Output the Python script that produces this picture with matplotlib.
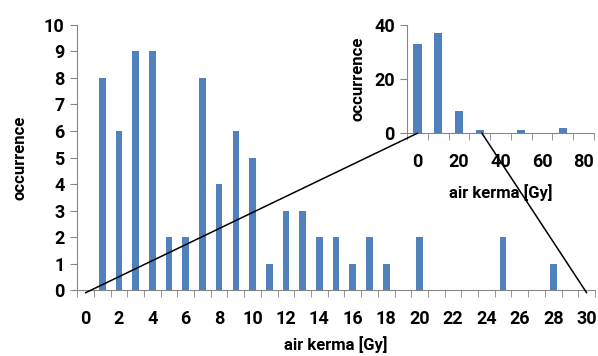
import numpy as np
import matplotlib.pyplot as plt
from matplotlib.patches import ConnectionPatch

plt.rcParams['font.family'] = ['Roboto', 'DejaVu Sans']
plt.rcParams['font.weight'] = 'bold'

# main histogram (0..30 Gy, 1 Gy bins)
dose = np.arange(0, 31)
counts = [0, 8, 6, 9, 9, 2, 2, 8, 4, 6, 5, 1, 3, 3, 2, 2, 1, 2, 1, 0,
          2, 0, 0, 0, 0, 2, 0, 0, 1, 0, 0]

# inset histogram (0..80 Gy, 10 Gy bins)
dose_in = np.arange(0, 90, 10)
counts_in = [33, 37, 8, 1, 0, 1, 0, 2, 0]

blue = '#4F81BD'
grey = '#868686'

fig = plt.figure(figsize=(5.98, 3.56), dpi=100)
ax = fig.add_axes([0.129, 0.185, 0.866, 0.745])
ins = fig.add_axes([0.681, 0.626, 0.312, 0.304])


def style(a, cats, labels_every, fs):
    n = len(cats)
    a.set_xlim(-0.5, n - 0.5)
    a.set_xticks(np.arange(n)[::labels_every])
    a.set_xticklabels([str(c) for c in cats[::labels_every]], fontsize=fs, fontweight='bold')
    a.set_xticks(np.arange(-0.5, n, 1), minor=True)
    a.tick_params(axis='x', which='major', length=0, pad=14)
    a.tick_params(axis='x', which='minor', length=5, color=grey, direction='out')
    a.tick_params(axis='y', length=5, color=grey, direction='out', labelsize=fs, pad=4)
    for lab in a.get_yticklabels():
        lab.set_fontweight('bold')
    for s in ['top', 'right']:
        a.spines[s].set_visible(False)
    for s in ['left', 'bottom']:
        a.spines[s].set_color(grey)


ax.bar(np.arange(len(dose)), counts, width=0.4, color=blue)
ax.set_ylim(0, 10)
ax.set_yticks(range(0, 11))
style(ax, dose, 2, 13)
ax.set_xlabel('air kerma [Gy]', fontsize=12, fontweight='bold', labelpad=6)
ax.set_ylabel('occurrence', fontsize=12, fontweight='bold', labelpad=12)

ins.bar(np.arange(len(dose_in)), counts_in, width=0.4, color=blue)
ins.set_ylim(0, 40)
ins.set_yticks([0, 20, 40])
style(ins, dose_in, 2, 13)
ins.set_xlabel('air kerma [Gy]', fontsize=12, fontweight='bold', labelpad=10)
ins.set_ylabel('occurrence', fontsize=12, fontweight='bold', labelpad=6)

# zoom lines linking main axis range to inset
for xa, xi in [(0, 0), (30, 3.1)]:
    con = ConnectionPatch(xyA=(xa, -0.1), coordsA=ax.transData,
                          xyB=(xi, 0), coordsB=ins.transData,
                          color='black', lw=1.1)
    fig.add_artist(con)

fig.savefig('out.png', dpi=100)
